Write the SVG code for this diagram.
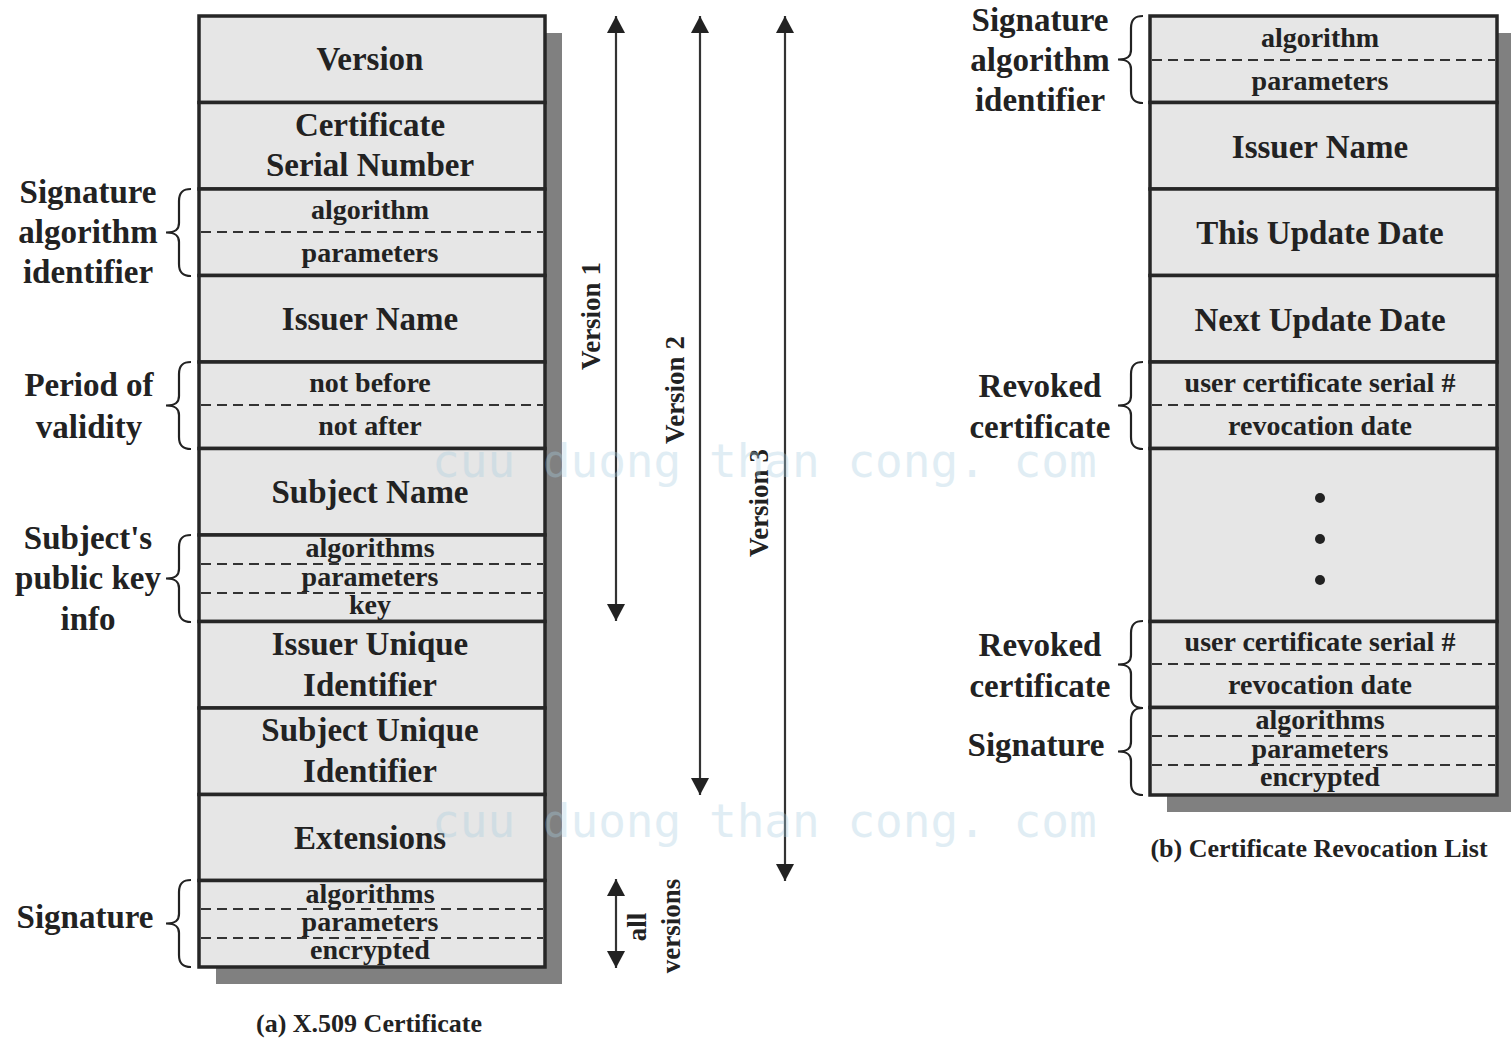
<svg xmlns="http://www.w3.org/2000/svg" width="1511" height="1038" viewBox="0 0 1511 1038">
  <style>
    .field { fill: #e6e6e6; stroke: #262626; stroke-width: 3.5; }
    .shadow { fill: #808080; }
    .sep { stroke: #333; stroke-width: 2; stroke-dasharray: 10 6; fill: none; }
    .big { font-family: "Liberation Serif", "Times New Roman", serif; font-weight: bold; font-size: 33px; fill: #222; text-anchor: middle; }
    .small { font-family: "Liberation Serif", "Times New Roman", serif; font-weight: bold; font-size: 28px; fill: #222; text-anchor: middle; }
    .side { font-family: "Liberation Serif", "Times New Roman", serif; font-weight: bold; font-size: 27px; fill: #222; text-anchor: middle; }
    .cap { font-family: "Liberation Serif", "Times New Roman", serif; font-weight: bold; font-size: 26px; fill: #222; text-anchor: middle; }
    .brace { fill: none; stroke: #222; stroke-width: 2.2; }
    .span { stroke: #333; stroke-width: 2.2; fill: none; }
    .mark { font-family: "DejaVu Sans Mono", "Liberation Mono", monospace; font-size: 46px; fill: #a9cde0; opacity: 0.35; }
  </style>
  <defs>
    <marker id="head" markerUnits="userSpaceOnUse" markerWidth="18" markerHeight="18" refX="17" refY="9" orient="auto-start-reverse">
      <path d="M0,0 L17,9 L0,18 z" fill="#222"/>
    </marker>
    <!-- left-facing curly brace, right ends at x=0, spanning one field height -->
    <path id="brace" class="brace" d="M0,0 C-8,0 -12,3 -12,12 L-12,34 C-12,40 -15,43.5 -25,43.5 C-15,43.5 -12,47 -12,53 L-12,75 C-12,84 -8,87 0,87"/>
  </defs>

  <rect width="1511" height="1038" fill="#fff"/>

  <!-- (a) X.509 certificate -->
  <g id="x509">
    <rect class="shadow" x="216" y="33" width="346" height="951"/>
    <g id="f-version">
      <rect class="field" x="199" y="16" width="346" height="86.5"/>
      <text class="big" x="370" y="70">Version</text>
    </g>
    <g id="f-serial">
      <rect class="field" x="199" y="102.5" width="346" height="86.5"/>
      <text class="big" x="370" y="136">Certificate</text>
      <text class="big" x="370" y="176">Serial Number</text>
    </g>
    <g id="f-sigalg">
      <rect class="field" x="199" y="189" width="346" height="86.5"/>
      <line class="sep" x1="201" y1="232" x2="543" y2="232"/>
      <text class="small" x="370" y="219">algorithm</text>
      <text class="small" x="370" y="262">parameters</text>
    </g>
    <g id="f-issuer">
      <rect class="field" x="199" y="275.5" width="346" height="86.5"/>
      <text class="big" x="370" y="330">Issuer Name</text>
    </g>
    <g id="f-validity">
      <rect class="field" x="199" y="362" width="346" height="86.5"/>
      <line class="sep" x1="201" y1="405" x2="543" y2="405"/>
      <text class="small" x="370" y="392">not before</text>
      <text class="small" x="370" y="435">not after</text>
    </g>
    <g id="f-subject">
      <rect class="field" x="199" y="448.5" width="346" height="86.5"/>
      <text class="big" x="370" y="503">Subject Name</text>
    </g>
    <g id="f-pubkey">
      <rect class="field" x="199" y="535" width="346" height="86.5"/>
      <line class="sep" x1="201" y1="564" x2="543" y2="564"/>
      <line class="sep" x1="201" y1="593" x2="543" y2="593"/>
      <text class="small" x="370" y="557">algorithms</text>
      <text class="small" x="370" y="586">parameters</text>
      <text class="small" x="370" y="614">key</text>
    </g>
    <g id="f-issuer-uid">
      <rect class="field" x="199" y="621.5" width="346" height="86.5"/>
      <text class="big" x="370" y="655">Issuer Unique</text>
      <text class="big" x="370" y="696">Identifier</text>
    </g>
    <g id="f-subject-uid">
      <rect class="field" x="199" y="708" width="346" height="86.5"/>
      <text class="big" x="370" y="741">Subject Unique</text>
      <text class="big" x="370" y="782">Identifier</text>
    </g>
    <g id="f-extensions">
      <rect class="field" x="199" y="794.5" width="346" height="86"/>
      <text class="big" x="370" y="849">Extensions</text>
    </g>
    <g id="f-signature">
      <rect class="field" x="199" y="880.5" width="346" height="86.5"/>
      <line class="sep" x1="201" y1="909" x2="543" y2="909"/>
      <line class="sep" x1="201" y1="938" x2="543" y2="938"/>
      <text class="small" x="370" y="903">algorithms</text>
      <text class="small" x="370" y="931">parameters</text>
      <text class="small" x="370" y="959">encrypted</text>
    </g>
    <text class="cap" x="369" y="1032">(a) X.509 Certificate</text>
  </g>

  <!-- labels beside the certificate -->
  <g id="lbl-sigalg">
    <use href="#brace" x="191" y="189"/>
    <text class="big" x="88" y="203">Signature</text>
    <text class="big" x="88" y="243">algorithm</text>
    <text class="big" x="88" y="283">identifier</text>
  </g>
  <g id="lbl-validity">
    <use href="#brace" x="191" y="362"/>
    <text class="big" x="89" y="396">Period of</text>
    <text class="big" x="89" y="438">validity</text>
  </g>
  <g id="lbl-pubkey">
    <use href="#brace" x="191" y="535"/>
    <text class="big" x="88" y="549">Subject's</text>
    <text class="big" x="88" y="589">public key</text>
    <text class="big" x="88" y="630">info</text>
  </g>
  <g id="lbl-signature">
    <use href="#brace" x="191" y="880"/>
    <text class="big" x="85" y="928">Signature</text>
  </g>

  <!-- version coverage spans -->
  <g id="spans">
    <line class="span" x1="616" y1="16" x2="616" y2="621" marker-start="url(#head)" marker-end="url(#head)"/>
    <line class="span" x1="700" y1="16" x2="700" y2="795" marker-start="url(#head)" marker-end="url(#head)"/>
    <line class="span" x1="785" y1="16" x2="785" y2="881" marker-start="url(#head)" marker-end="url(#head)"/>
    <line class="span" x1="616" y1="879" x2="616" y2="968" marker-start="url(#head)" marker-end="url(#head)"/>
  </g>
  <g id="span-labels">
    <text class="side" transform="translate(600,316) rotate(-90)">Version 1</text>
    <text class="side" transform="translate(684,390) rotate(-90)">Version 2</text>
    <text class="side" transform="translate(768,503) rotate(-90)">Version 3</text>
    <text class="side" transform="translate(646,927) rotate(-90)">all</text>
    <text class="side" transform="translate(680,926) rotate(-90)">versions</text>
  </g>

  <!-- (b) certificate revocation list -->
  <g id="crl">
    <rect class="shadow" x="1167" y="33" width="347" height="779"/>
    <g id="c-sigalg">
      <rect class="field" x="1150" y="16" width="347" height="86.5"/>
      <line class="sep" x1="1152" y1="60" x2="1495" y2="60"/>
      <text class="small" x="1320" y="47">algorithm</text>
      <text class="small" x="1320" y="90">parameters</text>
    </g>
    <g id="c-issuer">
      <rect class="field" x="1150" y="102.5" width="347" height="86.5"/>
      <text class="big" x="1320" y="158">Issuer Name</text>
    </g>
    <g id="c-this">
      <rect class="field" x="1150" y="189" width="347" height="86.5"/>
      <text class="big" x="1320" y="244">This Update Date</text>
    </g>
    <g id="c-next">
      <rect class="field" x="1150" y="275.5" width="347" height="86.5"/>
      <text class="big" x="1320" y="331">Next Update Date</text>
    </g>
    <g id="c-revoked1">
      <rect class="field" x="1150" y="362" width="347" height="86.5"/>
      <line class="sep" x1="1152" y1="405" x2="1495" y2="405"/>
      <text class="small" x="1320" y="392">user certificate serial #</text>
      <text class="small" x="1320" y="435">revocation date</text>
    </g>
    <g id="c-more">
      <rect class="field" x="1150" y="448.5" width="347" height="173"/>
      <circle cx="1320" cy="498" r="5" fill="#222"/>
      <circle cx="1320" cy="539" r="5" fill="#222"/>
      <circle cx="1320" cy="580" r="5" fill="#222"/>
    </g>
    <g id="c-revoked2">
      <rect class="field" x="1150" y="621.5" width="347" height="86"/>
      <line class="sep" x1="1152" y1="664" x2="1495" y2="664"/>
      <text class="small" x="1320" y="651">user certificate serial #</text>
      <text class="small" x="1320" y="694">revocation date</text>
    </g>
    <g id="c-signature">
      <rect class="field" x="1150" y="707.5" width="347" height="87.5"/>
      <line class="sep" x1="1152" y1="736" x2="1495" y2="736"/>
      <line class="sep" x1="1152" y1="765" x2="1495" y2="765"/>
      <text class="small" x="1320" y="729">algorithms</text>
      <text class="small" x="1320" y="758">parameters</text>
      <text class="small" x="1320" y="786">encrypted</text>
    </g>
    <text class="cap" x="1319" y="857">(b) Certificate Revocation List</text>
  </g>

  <!-- labels beside the revocation list -->
  <g id="lbl-crl-sigalg">
    <use href="#brace" x="1143" y="16"/>
    <text class="big" x="1040" y="31">Signature</text>
    <text class="big" x="1040" y="71">algorithm</text>
    <text class="big" x="1040" y="111">identifier</text>
  </g>
  <g id="lbl-crl-revoked1">
    <use href="#brace" x="1143" y="362"/>
    <text class="big" x="1040" y="397">Revoked</text>
    <text class="big" x="1040" y="438">certificate</text>
  </g>
  <g id="lbl-crl-revoked2">
    <use href="#brace" x="1143" y="621"/>
    <text class="big" x="1040" y="656">Revoked</text>
    <text class="big" x="1040" y="697">certificate</text>
  </g>
  <g id="lbl-crl-signature">
    <use href="#brace" x="1143" y="708"/>
    <text class="big" x="1036" y="756">Signature</text>
  </g>

  <!-- faint watermark lines -->
  <text class="mark" x="432" y="477">cuu duong than cong. com</text>
  <text class="mark" x="432" y="837">cuu duong than cong. com</text>
</svg>
